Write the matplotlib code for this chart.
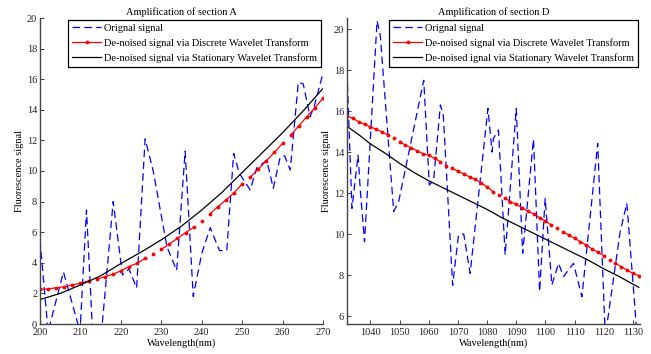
import numpy as np
import matplotlib.pyplot as plt

plt.rcParams['font.family'] = 'serif'
plt.rcParams['font.serif'] = ['Liberation Serif', 'DejaVu Serif']
plt.rcParams['font.size'] = 7.5
plt.rcParams['axes.titlesize'] = 7.5
plt.rcParams['axes.labelsize'] = 7.5

# ---- section A ----
orig_a_x = [200, 202, 205.8, 209.9, 211.5, 213, 215.3, 218.1, 220.4, 222, 223.9, 226,
            228, 231.4, 233.8, 235.9, 237.9, 240, 242.1, 244.4, 246.2, 247.9, 249.3,
            252, 253.6, 256.1, 257.7, 259.4, 260.5, 261.9, 263.9, 265.1, 266.8, 267.8, 270]
orig_a_y = [5.5, -0.5, 3.4, -0.5, 7.45, -0.5, -0.3, 8.0, 3.2, 3.6, 2.35, 12.1,
            10.0, 5.05, 3.5, 11.3, 1.8, 4.6, 6.3, 4.8, 4.8, 11.15, 9.85,
            8.76, 10.2, 10.7, 8.87, 10.9, 11.0, 10.06, 15.8, 15.7, 13.55, 14.2, 16.4]

dwt_a_x = np.arange(200, 271, 2)
dwt_a_y = [2.27, 2.29, 2.37, 2.44, 2.55, 2.66, 2.81, 2.92, 3.09, 3.25, 3.48, 3.75,
           3.97, 4.29, 4.55, 4.88, 5.23, 5.6, 5.97, 6.32, 6.75, 7.19, 7.67, 8.1,
           8.58, 9.15, 9.59, 10.13, 10.67, 11.22, 11.81, 12.35, 12.94, 13.55, 14.14, 14.75]
dwt_a_starts = [214, 228, 230, 240, 242, 252, 262]

swt_a_x = [200, 205, 210, 215, 220, 225, 230, 235, 240, 245, 250, 255, 260, 265, 270]
swt_a_y = [1.6, 2.0, 2.55, 3.15, 3.95, 4.7, 5.5, 6.4, 7.45, 8.6, 9.9, 11.2, 12.5, 13.9, 15.4]

# ---- section D ----
orig_d_x = [1032, 1033.7, 1035.8, 1036.6, 1038, 1042.3, 1043.4, 1048, 1049.7, 1058.3,
            1060.2, 1061.7, 1064, 1065, 1068.2, 1070.2, 1072, 1074.2, 1080.3, 1081.7,
            1082.2, 1083.9, 1086.2, 1090, 1092.2, 1095.9, 1098, 1099.9, 1102.2, 1104.5,
            1106.2, 1109.6, 1112.5, 1117.9, 1120.5, 1125.6, 1127.9, 1131.3]
orig_d_y = [17.9, 11.25, 13.85, 12.06, 9.62, 20.4, 19.7, 11.1, 11.58, 17.5,
            12.39, 12.63, 16.3, 15.8, 7.5, 9.95, 10.0, 8.08, 16.13, 14.0,
            14.67, 15.07, 8.98, 16.13, 9.06, 14.63, 7.19, 11.74, 7.51, 8.57,
            7.92, 8.57, 6.94, 14.42, 5.0, 10.11, 11.5, 5.2]

dwt_d_x = np.arange(1032, 1133, 2)
dwt_d_y = [15.76, 15.64, 15.48, 15.35, 15.23, 15.11, 14.99, 14.83, 14.67, 14.5,
           14.34, 14.21, 14.06, 13.92, 13.85, 13.69, 13.53, 13.33, 13.2, 13.07,
           12.93, 12.79, 12.67, 12.47, 12.31, 12.07, 11.9, 11.77, 11.58, 11.45,
           11.28, 11.12, 10.98, 10.8, 10.63, 10.44, 10.28, 10.11, 9.95, 9.79,
           9.62, 9.46, 9.27, 9.11, 8.94, 8.73, 8.57, 8.4, 8.24, 8.08, 7.97]
dwt_d_starts = [1048, 1050, 1066, 1068, 1084, 1086, 1104, 1106, 1122, 1124]

swt_d_x = [1032, 1036, 1040, 1045, 1050, 1055, 1060, 1065, 1070, 1075, 1080, 1085,
           1090, 1095, 1100, 1105, 1110, 1115, 1120, 1125, 1130, 1132]
swt_d_y = [15.25, 14.85, 14.4, 13.95, 13.45, 13.0, 12.6, 12.25, 11.9, 11.55, 11.2, 10.8,
           10.45, 10.1, 9.75, 9.4, 9.05, 8.7, 8.3, 7.95, 7.55, 7.4]


def draw_panel(ax, ox, oy, dx, dy, starts, sx, sy, labels, title):
    ax.plot(ox, oy, color='blue', lw=0.9, dashes=(6, 3.5), label=labels[0])
    dx = np.asarray(dx)
    dy = np.asarray(dy)
    cuts = [i for i, v in enumerate(dx) if v in starts]
    first = True
    for seg_x, seg_y in zip(np.split(dx, cuts), np.split(dy, cuts)):
        ax.plot(seg_x, seg_y, '-', color='red', lw=0.9, marker='.', ms=3.5,
                label=labels[1] if first else None)
        first = False
    ax.plot(sx, sy, '-', color='black', lw=0.9, label=labels[2])
    ax.set_title(title, pad=2)
    ax.set_xlabel('Wavelength(nm)', labelpad=1)
    ax.set_ylabel('Fluorescence signal', labelpad=2)
    for s in ['top', 'right']:
        ax.spines[s].set_visible(False)
    for s in ['left', 'bottom']:
        ax.spines[s].set_color('#444444')
        ax.spines[s].set_linewidth(1.0)
    ax.tick_params(direction='in', length=3, width=0.6, colors='#222222')
    ax.tick_params(axis='x', pad=3)
    ax.tick_params(axis='y', pad=2)
    leg = ax.legend(loc='upper right', fancybox=False, edgecolor='black',
                    framealpha=1, borderaxespad=0.15, handlelength=2.8,
                    labelspacing=0.5, borderpad=0.4, handletextpad=0.3)
    leg.get_frame().set_linewidth(0.9)


fig = plt.figure(figsize=(6.51, 3.54), dpi=100)
ax1 = fig.add_axes([40/651, 30/354, 283/651, 306/354])
ax2 = fig.add_axes([347/651, 30/354, 293/651, 306/354])

draw_panel(ax1, orig_a_x, orig_a_y, dwt_a_x, dwt_a_y, dwt_a_starts, swt_a_x, swt_a_y,
           ['Orignal signal', 'De-noised signal via Discrete Wavelet Transform',
            'De-noised signal via Stationary Wavelet Transform'],
           'Amplification of section A')
ax1.set_xlim(200, 270)
ax1.set_ylim(0, 20)
ax1.set_xticks(range(200, 271, 10))
ax1.set_yticks(range(0, 21, 2))

draw_panel(ax2, orig_d_x, orig_d_y, dwt_d_x, dwt_d_y, dwt_d_starts, swt_d_x, swt_d_y,
           ['Orignal signal', 'De-noised signal via Discrete Wavelet Transform',
            'De-noised ignal via Stationary Wavelet Transform'],
           'Amplification of section D')
ax2.set_xlim(1032, 1132.4)
ax2.set_ylim(5.61, 20.54)
ax2.set_xticks(range(1040, 1131, 10))
ax2.set_yticks(range(6, 21, 2))

fig.savefig('out.png', dpi=100)
